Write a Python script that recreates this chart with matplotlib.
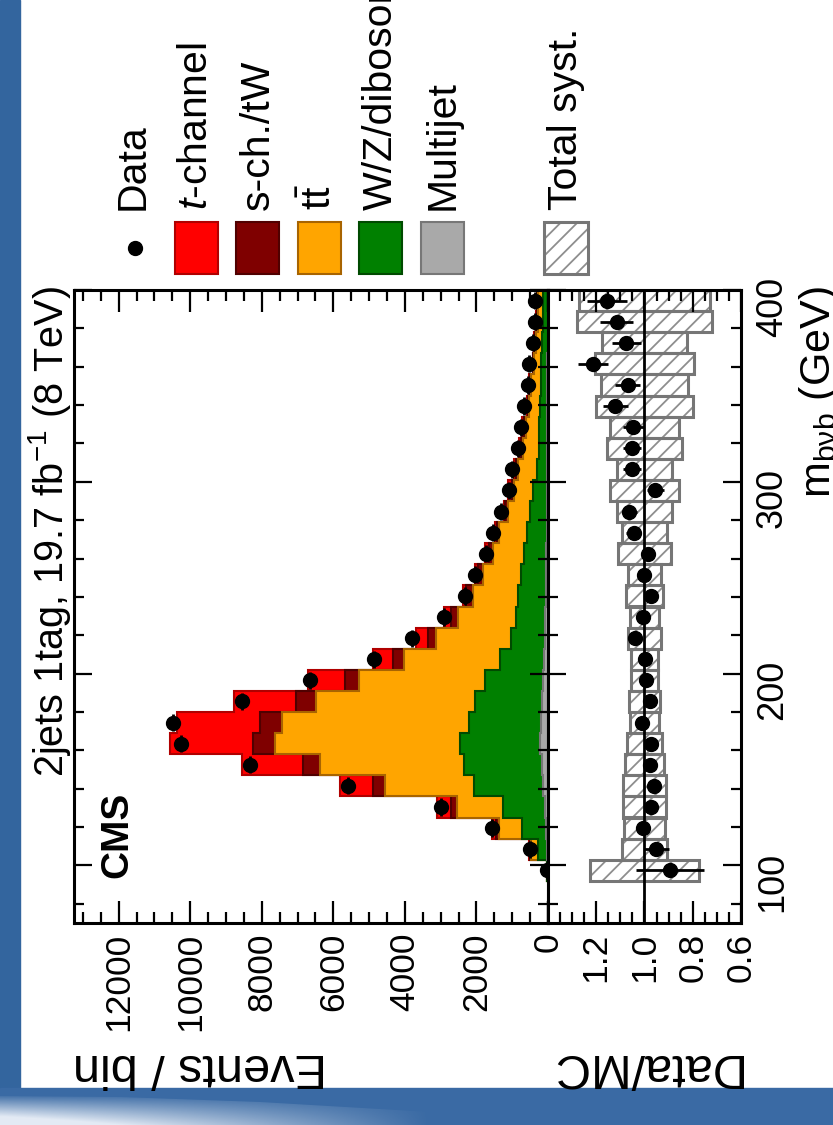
import numpy as np
import matplotlib.pyplot as plt
from matplotlib.patches import Rectangle, Polygon
from matplotlib.lines import Line2D
from matplotlib.ticker import MultipleLocator, FixedLocator, FuncFormatter

plt.rcParams['font.family'] = ['Liberation Sans', 'DejaVu Sans']
plt.rcParams['mathtext.fontset'] = 'custom'
plt.rcParams['mathtext.rm'] = 'Liberation Sans'
plt.rcParams['mathtext.it'] = 'Liberation Sans:italic'
plt.rcParams['mathtext.bf'] = 'Liberation Sans:bold'
plt.rcParams['hatch.linewidth'] = 1.3

# binning: 28 bins of 11 GeV
bin_lo, bin_w, n_bins = 92, 11, 28
edges = bin_lo + bin_w * np.arange(n_bins + 1)
centers = 0.5 * (edges[:-1] + edges[1:])

# events per bin
data = [37, 503, 1575, 3000, 5592, 8343, 10272, 10477, 8549, 6655,
        4870, 3815, 2910, 2321, 2050, 1733, 1525, 1314, 1090, 1010,
        840, 755, 662, 569, 522, 429, 364, 364]
multijet = [5, 30, 60, 90, 130, 160, 230, 205, 160, 130,
            110, 90, 75, 60, 50, 45, 40, 35, 30, 25,
            22, 20, 18, 16, 14, 12, 10, 10]
wzdib = [25, 250, 676, 1155, 1935, 2195, 2240, 2005, 1868, 1630,
         1240, 935, 810, 770, 700, 615, 540, 455, 400, 275,
         238, 220, 202, 184, 176, 158, 140, 120]
ttbar = [5, 205, 634, 1305, 2485, 4022, 5165, 5220, 4470, 3530,
         2670, 2102, 1625, 1276, 1077, 887, 781, 638, 511, 548,
         448, 375, 320, 275, 210, 165, 140, 150]
sch_tw = [3, 25, 94, 167, 334, 475, 615, 634, 541, 372,
          314, 214, 198, 174, 123, 103, 75, 62, 70, 52,
          40, 45, 28, 25, 18, 28, 15, 15]
tchan = [3, 19, 106, 373, 929, 1688, 2320, 2306, 1731, 1048,
         566, 349, 202, 100, 100, 108, 50, 50, 100, 59,
         52, 62, 22, 32, 12, 36, 21, 20]

# ratio panel
ratio = [0.895, 0.951, 1.007, 0.975, 0.962, 0.979, 0.975, 1.011, 0.976, 0.993,
         0.997, 1.039, 1.007, 0.975, 1.000, 0.986, 1.045, 1.063, 0.955, 1.053,
         1.051, 1.046, 1.122, 1.070, 1.213, 1.076, 1.116, 1.157]
ratio_err = [0.140, 0.052, 0.027, 0.020, 0.015, 0.013, 0.012, 0.012, 0.013, 0.015,
             0.017, 0.020, 0.022, 0.024, 0.026, 0.028, 0.030, 0.032, 0.035, 0.038,
             0.038, 0.042, 0.052, 0.052, 0.063, 0.060, 0.067, 0.083]
syst = [0.227, 0.095, 0.086, 0.090, 0.091, 0.079, 0.074, 0.060, 0.063, 0.058,
        0.054, 0.067, 0.060, 0.076, 0.070, 0.110, 0.095, 0.112, 0.143, 0.116,
        0.156, 0.144, 0.200, 0.180, 0.205, 0.175, 0.279, 0.270]

labels = [r'$\mathit{t}$-channel', 's-ch./tW', r'$\mathrm{t\bar{t}}$', 'W/Z/diboson', 'Multijet']
fills = ['#ff0000', '#7f0000', '#ffa500', '#008000', '#a9a9a9']
lines = ['#b00000', '#500000', '#a86400', '#004a00', '#777777']
hatch_col, box_col = '#8e8e8e', '#767676'

W, H = 833, 1125
fig = plt.figure(figsize=(W / 100, H / 100), dpi=100)


def box(x0, y0, x1, y1):
    return [x0 / W, 1 - y1 / H, (x1 - x0) / W, (y1 - y0) / H]


ax = fig.add_axes(box(74, 290, 548, 923))
rx = fig.add_axes(box(548, 290, 741, 923))

# stacked histogram, drawn as cumulative sums (top of stack first)
comps = np.array([multijet, wzdib, ttbar, sch_tw, tchan], dtype=float)
cum = np.cumsum(comps, axis=0)
for i in range(4, -1, -1):
    ax.stairs(cum[i], edges, orientation='horizontal', fill=True,
              facecolor=fills[4 - i], edgecolor=lines[4 - i], lw=1.5)

data = np.array(data, dtype=float)
ax.errorbar(data, centers, xerr=np.sqrt(data), yerr=4.5, fmt='o', color='k',
            ms=10, elinewidth=2, capsize=0, zorder=5)

ax.set_xlim(13250, 0)
ax.set_ylim(70, 400)

# ratio panel
syst = np.array(syst)
rx.barh(centers, 2 * syst, left=1 - syst, height=bin_w, facecolor='white',
        edgecolor=hatch_col, hatch='//', lw=0.01)
rx.barh(centers, 2 * syst, left=1 - syst, height=bin_w, fill=False,
        edgecolor=box_col, lw=2.2)
rx.axvline(1.0, color='k', lw=2, zorder=3)
rx.errorbar(ratio, centers, xerr=ratio_err, fmt='o', color='k', ms=10,
            elinewidth=2, capsize=0, zorder=5)
rx.set_xlim(1.4, 0.6)
rx.set_ylim(70, 400)

for a in (ax, rx):
    for s in a.spines.values():
        s.set_linewidth(2.2)
    a.yaxis.set_major_locator(MultipleLocator(100))
    a.yaxis.set_minor_locator(MultipleLocator(20))
    a.tick_params(which='both', direction='in', top=True, bottom=True,
                  left=True, right=True, width=1.6)
    a.tick_params(axis='x', which='major', length=16)
    a.tick_params(axis='x', which='minor', length=8)
    a.tick_params(axis='y', which='major', length=13)
    a.tick_params(axis='y', which='minor', length=7)

ax.xaxis.set_major_locator(MultipleLocator(2000))
ax.xaxis.set_minor_locator(MultipleLocator(500))
ax.tick_params(axis='y', labelleft=False)
ax.tick_params(axis='x', labelsize=25.5, labelrotation=90, pad=7)

rx.xaxis.set_major_locator(FixedLocator([0.6, 0.8, 1.0, 1.2, 1.4]))
rx.xaxis.set_minor_locator(MultipleLocator(0.05))
rx.xaxis.set_major_formatter(FuncFormatter(lambda v, p: '' if v > 1.3 else '%.1f' % v))
rx.tick_params(axis='x', labelsize=25.5, labelrotation=90, pad=7)
rx.tick_params(axis='y', labelleft=False, labelright=True, labelsize=26,
               labelrotation=90, pad=10)

# overlay in pixel coordinates for background, legend and texts
lay = fig.add_axes([0, 0, 1, 1], zorder=5)
lay.patch.set_visible(False)
lay.axis('off')

lay.add_patch(Rectangle((0, 0), 20, H, color='#33659e', zorder=0))
lay.add_patch(Rectangle((0, 1088), W, H - 1088, color='#3a6aa4', zorder=0))
gx = np.linspace(1, 0, 200)
gy = np.linspace(0, 1, 40)
glow = np.zeros((40, 200, 4))
glow[..., :3] = [0.93, 0.95, 0.98]
glow[..., 3] = np.clip(np.outer(gy, gx) * 1.3, 0, 0.95)
im = lay.imshow(glow, extent=(0, 430, 1125, 1094), aspect='auto', zorder=1)
swoosh = Polygon([(0, 1096), (120, 1097), (260, 1102), (430, 1112), (430, 1125), (0, 1125)],
                 transform=lay.transData, facecolor='none', edgecolor='none')
lay.add_patch(swoosh)
im.set_clip_path(swoosh)

lay.set_xlim(0, W)
lay.set_ylim(H, 0)

# legend
leg_font = 29.5
lay.add_line(Line2D([135], [248], marker='o', ms=10, color='k', ls='none'))
lay.text(133, 210, 'Data', rotation=90, ha='center', va='bottom', fontsize=leg_font)
for i, (lab, fc, ec) in enumerate(zip(labels, fills, lines)):
    x0 = 175 + 61.5 * i
    lay.add_patch(Rectangle((x0, 222), 43, 52, facecolor=fc, edgecolor=ec, lw=1.5))
    lay.text(x0 + 21.5, 210, lab, rotation=90, ha='center', va='bottom', fontsize=leg_font)
lay.add_patch(Rectangle((544, 222), 44, 52, facecolor='white', edgecolor=hatch_col,
                        hatch='//', lw=0.01))
lay.add_patch(Rectangle((544, 222), 44, 52, fill=False, edgecolor=box_col, lw=2.2))
lay.text(566, 210, 'Total syst.', rotation=90, ha='center', va='bottom', fontsize=leg_font)

# titles and axis labels
lay.text(50, 286, r'2jets 1tag, 19.7 fb$^{-1}$ (8 TeV)', rotation=90,
         ha='center', va='top', fontsize=28.5)
lay.text(117, 878, 'CMS', rotation=90, ha='center', va='bottom',
         fontsize=28, fontweight='bold')
lay.text(819, 286, r'm$_{\mathrm{b\nu b}}$ (GeV)', rotation=90, ha='center',
         va='top', fontsize=31)
lay.text(200, 1067, 'Events / bin', rotation=180, ha='center', va='center', fontsize=35)
lay.text(644, 1067, 'Data/MC', rotation=180, ha='center', va='center', fontsize=35)

fig.savefig('out.png', dpi=100)
